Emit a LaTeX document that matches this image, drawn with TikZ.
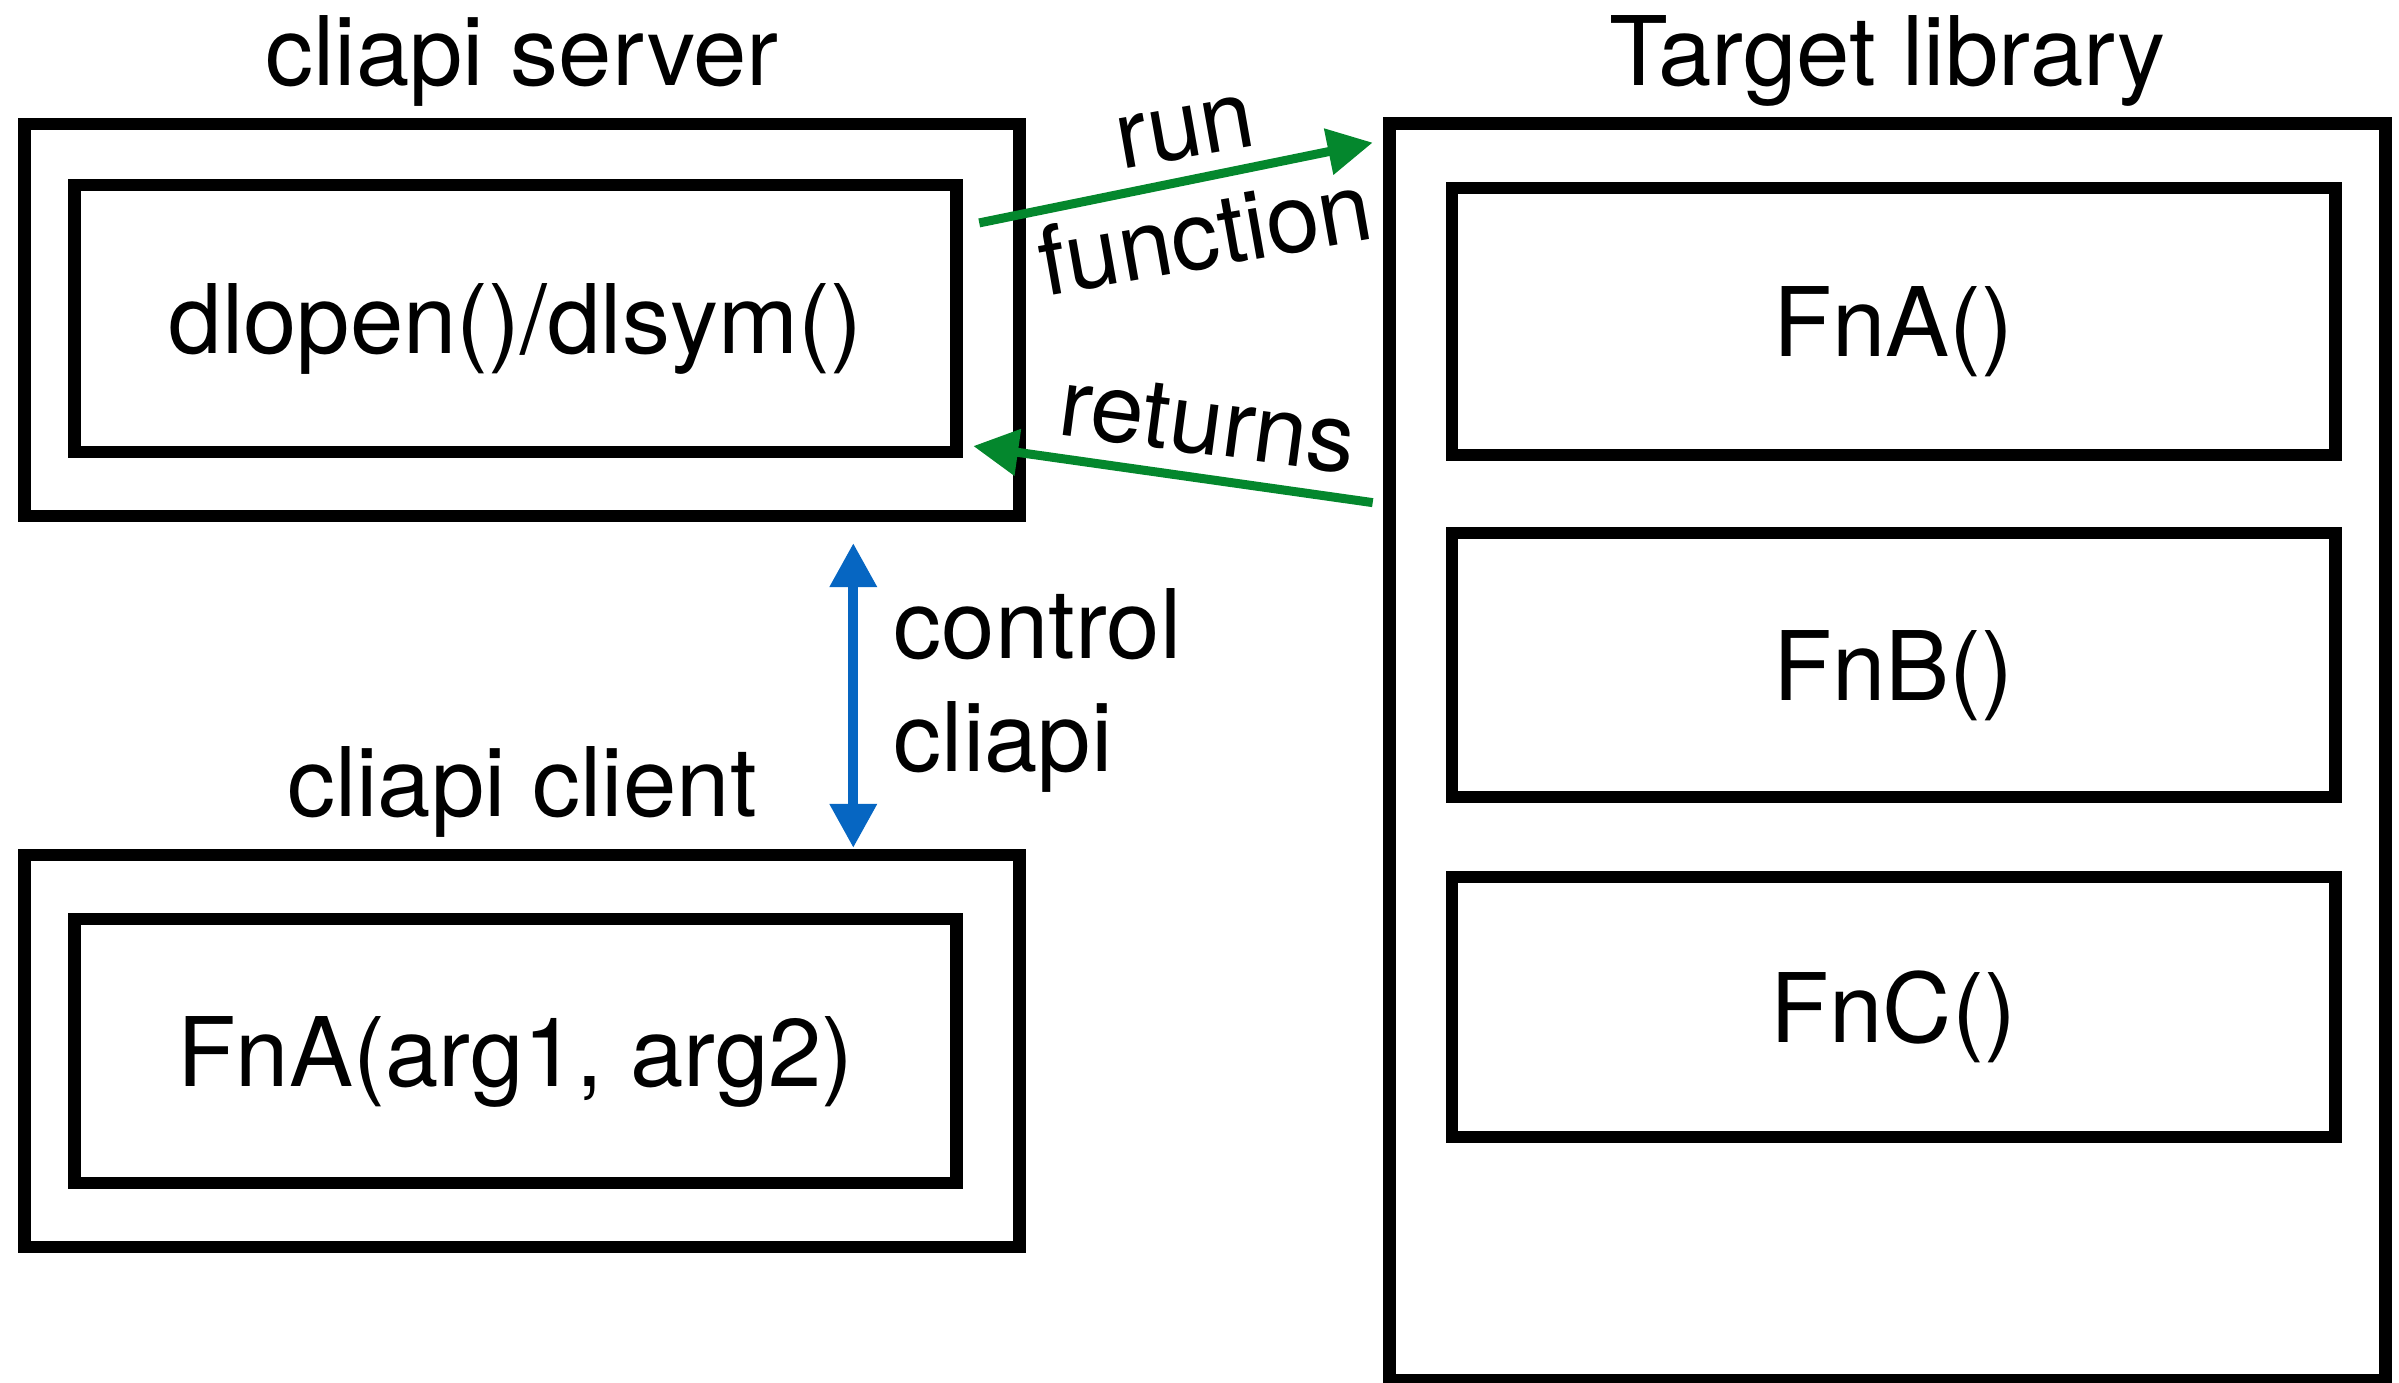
\documentclass[tikz,border=0pt]{standalone}
\usepackage{fontspec}
\setmainfont{TeX Gyre Heros}
\usepackage{tikz}
\usetikzlibrary{arrows.meta, calc}
\definecolor{callgreen}{RGB}{4,135,45}
\definecolor{ctrlblue}{RGB}{6,102,194}
\tikzset{txt/.style={font=\fontsize{27.3pt}{32.2pt}\selectfont, inner sep=0pt},
  box/.style={txt, draw, line width=0.125cm, outer sep=0pt, text height=0.7cm, text depth=0pt},
  call/.style={-{Triangle[length=0.45cm, width=0.45cm]}, line width=0.09cm, callgreen},
  ctrl/.style={{Triangle[length=0.44cm, width=0.45cm]}-{Triangle[length=0.44cm, width=0.45cm]}, line width=0.1cm, ctrlblue}}

\begin{document}
\begin{tikzpicture}[x=0.01cm, y=-0.01cm]
\useasboundingbox (0,0) rectangle (2399,1383);

% Server side
\node[box, minimum width=9.94cm, minimum height=3.92cm] (srvout) at (522,320) {};
\node[box, minimum width=8.81cm, minimum height=2.67cm] (srvin) at (515.5,318.5) {dlopen()/dlsym()};
\node[txt, anchor=base] (srvtitle) at ([yshift=0.38cm]srvout.north) {cliapi server};

% Client side
\node[box, minimum width=9.94cm, minimum height=3.92cm] (cliout) at (522,1051) {};
\node[box, minimum width=8.81cm, minimum height=2.64cm] (cliin) at (515.5,1051) {FnA(arg1, arg2)};
\node[txt, anchor=base] (clititle) at ([yshift=0.38cm]cliout.north) {cliapi client};

% Library with its functions
\node[box, minimum width=9.95cm, minimum height=12.56cm] (lib) at (1887.5,752) {};
\node[box, minimum width=8.83cm, minimum height=2.67cm] (fna) at (1893.5,321.5) {FnA()};
\node[box, minimum width=8.83cm, minimum height=2.64cm] (fnb) at (1893.5,665) {FnB()};
\node[box, minimum width=8.83cm, minimum height=2.60cm] (fnc) at (1893.5,1007) {FnC()};
\node[txt, anchor=base] (libtitle) at ([yshift=0.38cm]lib.north) {Target library};

% Call and return
\draw[call] ([shift={(23,38)}]srvin.north east) -- ([shift={(-17,19)}]lib.north west);
\node[txt, anchor=base, rotate=10] (runlbl) at (1190,157) {run};
\node[txt, anchor=base, rotate=10] (fnlbl) at (1211,267) {function};
\draw[call] ([shift={(-17,379)}]lib.north west) -- ([shift={(17,-6)}]srvin.south east);
\node[txt, anchor=base, rotate=-7.5] (retlbl) at (1204,454) {returns};

% Control link between client and server
\draw[ctrl] ([shift={(-166,27)}]srvout.south east) -- ([shift={(-166,-7)}]cliout.north east);
\node[txt, align=left, anchor=north west] (ctllbl) at (893,588) {control\\cliapi};
\end{tikzpicture}
\end{document}
